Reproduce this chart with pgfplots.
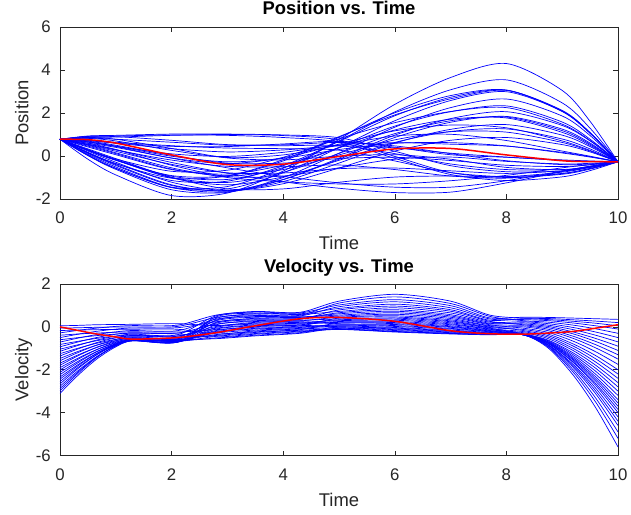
\documentclass[border=0pt]{standalone}
\usepackage{pgfplots}
\pgfplotsset{compat=1.18}
\usepackage{fontspec}
\setmainfont{Liberation Sans}
\definecolor{axgray}{rgb}{0.15,0.15,0.15}
\pgfplotsset{
  bl/.style={blue, line width=0.7pt, smooth},
  rd/.style={red, line width=1.5pt, smooth},
  matlab/.style={
    scale only axis, width=558pt,
    xmin=0, xmax=10, xtick={0,2,4,6,8,10},
    axis line style={draw=axgray, line width=0.6pt},
    tick style={draw=axgray, line width=0.6pt},
    major tick length=5pt,
    tick align=inside, tick pos=both,
    /pgf/number format/assume math mode=true,
    tick label style={font=\fontsize{16.8}{16.8}\selectfont, text=axgray},
    xticklabel style={anchor=base, yshift=-25pt},
    yticklabel style={anchor=east, inner sep=0pt, xshift=-9pt},
    title style={at={(axis description cs:0.5,1)}, anchor=base, yshift=6pt, font=\bfseries\fontsize{18.4}{18.4}\selectfont, text=black},
    xlabel style={at={(axis description cs:0.5,0)}, anchor=base, yshift=-50.5pt, font=\fontsize{18.4}{18.4}\selectfont, text=axgray},
    ylabel style={at={(axis description cs:-0.0565,0.5)}, anchor=base, font=\fontsize{18.4}{18.4}\selectfont, text=axgray},
  }
}
\begin{document}
\begin{tikzpicture}
\useasboundingbox (0,0) rectangle (631pt,514pt);
% ---------------- Position ----------------
\begin{axis}[matlab, at={(60pt,315pt)}, anchor=south west, height=172pt,
  ymin=-2, ymax=6, ytick={-2,0,2,4,6},
  title={Position vs. Time}, xlabel={Time}, ylabel={Position}]
\addplot[bl] coordinates {(0,0.78)(0.5,-0.15)(1,-0.88)(2,-1.84)(3,-1.72)(4,-0.70)(5,0.77)(6,2.40)(7,3.65)(8,4.30)(9,3.05)(9.5,1.61)(10,-0.27)};
\addplot[bl] coordinates {(0,0.78)(0.5,0.03)(1,-0.58)(2,-1.45)(3,-1.42)(4,-0.57)(5,0.70)(6,2.05)(7,3.08)(8,3.54)(9,2.47)(9.5,1.29)(10,-0.27)};
\addplot[bl] coordinates {(0,0.78)(0.5,0.05)(1,-0.57)(2,-1.47)(3,-1.53)(4,-0.78)(5,0.39)(6,1.64)(7,2.58)(8,2.99)(9,2.08)(9.5,1.07)(10,-0.27)};
\addplot[bl] coordinates {(0,0.78)(0.5,0.17)(1,-0.35)(2,-1.14)(3,-1.17)(4,-0.45)(5,0.68)(6,1.87)(7,2.73)(8,3.06)(9,2.09)(9.5,1.07)(10,-0.27)};
\addplot[bl] coordinates {(0,0.78)(0.5,0.15)(1,-0.36)(2,-1.03)(3,-0.93)(4,-0.17)(5,0.90)(6,1.91)(7,2.66)(8,3.05)(9,2.12)(9.5,1.09)(10,-0.27)};
\addplot[bl] coordinates {(0,0.78)(0.5,0.02)(1,-0.62)(2,-1.57)(3,-1.69)(4,-1.00)(5,0.13)(6,1.34)(7,2.25)(8,2.65)(9,1.86)(9.5,0.95)(10,-0.27)};
\addplot[bl] coordinates {(0,0.78)(0.5,0.26)(1,-0.20)(2,-0.91)(3,-0.92)(4,-0.23)(5,0.87)(6,2.01)(7,2.81)(8,3.07)(9,2.07)(9.5,1.05)(10,-0.27)};
\addplot[bl] coordinates {(0,0.78)(0.5,0.09)(1,-0.51)(2,-1.46)(3,-1.67)(4,-1.10)(5,-0.10)(6,0.97)(7,1.74)(8,2.06)(9,1.42)(9.5,0.70)(10,-0.27)};
\addplot[bl] coordinates {(0,0.78)(0.5,0.28)(1,-0.17)(2,-0.94)(3,-1.09)(4,-0.54)(5,0.40)(6,1.39)(7,2.06)(8,2.25)(9,1.48)(9.5,0.72)(10,-0.27)};
\addplot[bl] coordinates {(0,0.78)(0.5,0.13)(1,-0.44)(2,-1.37)(3,-1.61)(4,-1.09)(5,-0.15)(6,0.86)(7,1.57)(8,1.84)(9,1.25)(9.5,0.60)(10,-0.27)};
\addplot[bl] coordinates {(0,0.78)(0.5,0.28)(1,-0.19)(2,-1.00)(3,-1.23)(4,-0.76)(5,0.12)(6,1.04)(7,1.64)(8,1.81)(9,1.18)(9.5,0.55)(10,-0.27)};
\addplot[bl] coordinates {(0,0.78)(0.5,0.16)(1,-0.40)(2,-1.34)(3,-1.64)(4,-1.19)(5,-0.33)(6,0.60)(7,1.24)(8,1.46)(9,0.97)(9.5,0.44)(10,-0.27)};
\addplot[bl] coordinates {(0,0.78)(0.5,0.42)(1,0.06)(2,-0.63)(3,-0.84)(4,-0.42)(5,0.38)(6,1.21)(7,1.71)(8,1.77)(9,1.10)(9.5,0.50)(10,-0.27)};
\addplot[bl] coordinates {(0,0.78)(0.5,0.29)(1,-0.18)(2,-1.02)(3,-1.34)(4,-0.97)(5,-0.20)(6,0.63)(7,1.14)(8,1.26)(9,0.79)(9.5,0.33)(10,-0.27)};
\addplot[bl] coordinates {(0,0.78)(0.5,0.23)(1,-0.29)(2,-1.22)(3,-1.61)(4,-1.29)(5,-0.56)(6,0.23)(7,0.73)(8,0.86)(9,0.53)(9.5,0.19)(10,-0.27)};
\addplot[bl] coordinates {(0,0.78)(0.5,0.29)(1,-0.14)(2,-0.71)(3,-0.66)(4,-0.06)(5,0.80)(6,1.55)(7,2.07)(8,2.33)(9,1.58)(9.5,0.78)(10,-0.27)};
\addplot[bl] coordinates {(0,0.78)(0.5,0.46)(1,0.11)(2,-0.61)(3,-0.92)(4,-0.63)(5,0.05)(6,0.75)(7,1.13)(8,1.11)(9,0.63)(9.5,0.23)(10,-0.27)};
\addplot[bl] coordinates {(0,0.78)(0.5,0.87)(1,0.88)(2,0.96)(3,1.00)(4,0.95)(5,0.75)(6,-0.02)(7,-0.77)(8,-1.00)(9,-0.85)(9.5,-0.61)(10,-0.27)};
\addplot[bl] coordinates {(0,0.78)(0.5,0.93)(1,0.96)(2,1.02)(3,1.02)(4,0.98)(5,0.85)(6,0.22)(7,-0.45)(8,-0.73)(9,-0.70)(9.5,-0.53)(10,-0.27)};
\addplot[bl] coordinates {(0,0.78)(0.5,0.71)(1,0.60)(2,0.45)(3,0.44)(4,0.56)(5,0.68)(6,0.41)(7,0.06)(8,-0.06)(9,-0.18)(9.5,-0.23)(10,-0.27)};
\addplot[bl] coordinates {(0,0.78)(0.5,0.83)(1,0.78)(2,0.64)(3,0.50)(4,0.48)(5,0.48)(6,0.11)(7,-0.37)(8,-0.63)(9,-0.63)(9.5,-0.49)(10,-0.27)};
\addplot[bl] coordinates {(0,0.78)(0.5,0.74)(1,0.64)(2,0.48)(3,0.37)(4,0.34)(5,0.27)(6,-0.23)(7,-0.77)(8,-0.96)(9,-0.81)(9.5,-0.58)(10,-0.27)};
\addplot[bl] coordinates {(0,0.78)(0.5,0.73)(1,0.60)(2,0.34)(3,0.19)(4,0.28)(5,0.47)(6,0.38)(7,0.13)(8,-0.05)(9,-0.21)(9.5,-0.25)(10,-0.27)};
\addplot[bl] coordinates {(0,0.78)(0.5,0.91)(1,0.90)(2,0.73)(3,0.53)(4,0.52)(5,0.63)(6,0.47)(7,0.11)(8,-0.22)(9,-0.40)(9.5,-0.37)(10,-0.27)};
\addplot[bl] coordinates {(0,0.78)(0.5,0.52)(1,0.22)(2,-0.39)(3,-0.78)(4,-0.79)(5,-0.59)(6,-0.56)(7,-0.69)(8,-0.81)(9,-0.69)(9.5,-0.51)(10,-0.27)};
\addplot[bl] coordinates {(0,0.78)(0.5,0.91)(1,0.93)(2,0.98)(3,0.96)(4,0.86)(5,0.65)(6,-0.11)(7,-0.86)(8,-1.14)(9,-0.97)(9.5,-0.68)(10,-0.27)};
\addplot[bl] coordinates {(0,0.78)(0.5,0.33)(1,-0.12)(2,-0.99)(3,-1.53)(4,-1.53)(5,-1.22)(6,-0.98)(7,-0.93)(8,-0.96)(9,-0.75)(9.5,-0.53)(10,-0.27)};
\addplot[bl] coordinates {(0,0.78)(0.5,0.54)(1,0.28)(2,-0.19)(3,-0.48)(4,-0.50)(5,-0.42)(6,-0.63)(7,-0.93)(8,-1.03)(9,-0.82)(9.5,-0.58)(10,-0.27)};
\addplot[bl] coordinates {(0,0.78)(0.5,0.55)(1,0.30)(2,-0.30)(3,-0.80)(4,-1.20)(5,-1.50)(6,-1.70)(7,-1.68)(8,-1.25)(9,-0.72)(9.5,-0.48)(10,-0.27)};
\addplot[bl] coordinates {(0,0.78)(0.5,0.60)(1,0.40)(2,-0.10)(3,-0.55)(4,-0.95)(5,-1.25)(6,-1.45)(7,-1.45)(8,-1.15)(9,-0.70)(9.5,-0.47)(10,-0.27)};
\addplot[bl] coordinates {(0,0.78)(0.5,0.50)(1,0.15)(2,-0.55)(3,-1.00)(4,-1.20)(5,-1.30)(6,-1.30)(7,-1.15)(8,-0.90)(9,-0.55)(9.5,-0.40)(10,-0.27)};
\addplot[bl] coordinates {(0,0.78)(0.5,0.66)(1,0.46)(2,-0.01)(3,-0.27)(4,-0.11)(5,0.30)(6,0.59)(7,0.62)(8,0.47)(9,0.14)(9.5,-0.05)(10,-0.27)};
\addplot[bl] coordinates {(0,0.78)(0.5,0.69)(1,0.50)(2,0.03)(3,-0.33)(4,-0.33)(5,-0.12)(6,-0.06)(7,-0.21)(8,-0.43)(9,-0.49)(9.5,-0.41)(10,-0.27)};
\addplot[bl] coordinates {(0,0.78)(0.5,0.82)(1,0.70)(2,0.26)(3,-0.07)(4,0.05)(5,0.50)(6,0.93)(7,1.01)(8,0.72)(9,0.23)(9.5,-0.01)(10,-0.27)};
\addplot[bl] coordinates {(0,0.78)(0.5,0.59)(1,0.30)(2,-0.43)(3,-0.95)(4,-0.93)(5,-0.55)(6,-0.15)(7,-0.05)(8,-0.25)(9,-0.37)(9.5,-0.34)(10,-0.27)};
\addplot[bl] coordinates {(0,0.78)(0.5,0.64)(1,0.45)(2,0.10)(3,-0.02)(4,0.17)(5,0.51)(6,0.62)(7,0.55)(8,0.46)(9,0.17)(9.5,-0.03)(10,-0.27)};
\addplot[bl] coordinates {(0,0.78)(0.5,0.86)(1,0.78)(2,0.35)(3,-0.09)(4,-0.18)(5,-0.01)(6,0.06)(7,-0.15)(8,-0.53)(9,-0.64)(9.5,-0.50)(10,-0.27)};
\addplot[bl] coordinates {(0,0.78)(0.5,0.66)(1,0.44)(2,-0.09)(3,-0.35)(4,-0.08)(5,0.55)(6,1.17)(7,1.44)(8,1.31)(9,0.70)(9.5,0.26)(10,-0.27)};
\addplot[rd] coordinates {(0,0.78)(0.5,0.76)(1,0.60)(2,0.05)(3,-0.40)(4,-0.38)(5,-0.02)(6,0.33)(7,0.35)(8,0.05)(9,-0.22)(9.5,-0.26)(10,-0.27)};
\end{axis}
% ---------------- Velocity ----------------
\begin{axis}[matlab, at={(60pt,58.5pt)}, anchor=south west, height=171.5pt,
  ymin=-6, ymax=2, ytick={-6,-4,-2,0,2},
  title={Velocity vs. Time}, xlabel={Time}, ylabel={Velocity}]
\addplot[bl] coordinates {(0,0.05)(0.33,0.07)(0.65,0.10)(0.98,0.11)(1.3,0.12)(2.1,0.15)(2.8,0.06)(3.5,0.21)(4.3,0.24)(5,0.14)(6,0.11)(7,-0.02)(7.7,-0.19)(8.3,-0.35)(8.75,-0.75)(9.2,-1.56)(9.6,-2.53)(10,-3.7)};
\addplot[bl] coordinates {(0,-0.06)(0.33,-0.04)(0.65,-0.02)(0.98,-0.01)(1.3,0.00)(2.1,0.02)(2.8,0.44)(3.5,0.61)(4.3,0.58)(5,0.72)(6,0.89)(7,0.65)(7.7,0.22)(8.3,0.24)(8.75,0.15)(9.2,-0.03)(9.6,-0.24)(10,-0.5)};
\addplot[bl] coordinates {(0,-0.17)(0.33,-0.15)(0.65,-0.13)(0.98,-0.12)(1.3,-0.11)(2.1,-0.11)(2.8,-0.33)(3.5,-0.19)(4.3,-0.10)(5,-0.04)(6,-0.13)(7,-0.24)(7.7,-0.32)(8.3,-0.37)(8.75,-0.94)(9.2,-2.12)(9.6,-3.51)(10,-5.2)};
\addplot[bl] coordinates {(0,-0.28)(0.33,-0.16)(0.65,-0.06)(0.98,0.02)(1.3,0.06)(2.1,0.08)(2.8,0.55)(3.5,0.72)(4.3,0.68)(5,1.20)(6,1.52)(7,1.20)(7.7,0.55)(8.3,0.41)(8.75,0.39)(9.2,0.33)(9.6,0.27)(10,0.2)};
\addplot[bl] coordinates {(0,-0.39)(0.33,-0.33)(0.65,-0.29)(0.98,-0.25)(1.3,-0.23)(2.1,-0.24)(2.8,-0.13)(3.5,0.01)(4.3,0.07)(5,0.01)(6,-0.06)(7,-0.18)(7.7,-0.28)(8.3,-0.37)(8.75,-0.87)(9.2,-1.90)(9.6,-3.12)(10,-4.6)};
\addplot[bl] coordinates {(0,-0.5)(0.33,-0.34)(0.65,-0.21)(0.98,-0.11)(1.3,-0.05)(2.1,-0.04)(2.8,0.24)(3.5,0.40)(4.3,0.41)(5,0.50)(6,0.59)(7,0.39)(7.7,0.06)(8.3,0.05)(8.75,-0.11)(9.2,-0.44)(9.6,-0.83)(10,-1.3)};
\addplot[bl] coordinates {(0,-0.6)(0.33,-0.50)(0.65,-0.41)(0.98,-0.34)(1.3,-0.30)(2.1,-0.33)(2.8,-0.47)(3.5,-0.34)(4.3,-0.23)(5,-0.12)(6,-0.24)(7,-0.33)(7.7,-0.37)(8.3,-0.37)(8.75,-0.99)(9.2,-2.26)(9.6,-3.77)(10,-5.6)};
\addplot[bl] coordinates {(0,-0.71)(0.33,-0.52)(0.65,-0.36)(0.98,-0.24)(1.3,-0.17)(2.1,-0.18)(2.8,0.36)(3.5,0.53)(4.3,0.51)(5,0.94)(6,1.17)(7,0.89)(7.7,0.37)(8.3,0.34)(8.75,0.29)(9.2,0.18)(9.6,0.05)(10,-0.1)};
\addplot[bl] coordinates {(0,-0.82)(0.33,-0.67)(0.65,-0.54)(0.98,-0.44)(1.3,-0.38)(2.1,-0.42)(2.8,-0.06)(3.5,0.09)(4.3,0.14)(5,0.21)(6,0.20)(7,0.05)(7.7,-0.14)(8.3,-0.27)(8.75,-0.55)(9.2,-1.11)(9.6,-1.79)(10,-2.6)};
\addplot[bl] coordinates {(0,-0.93)(0.33,-0.70)(0.65,-0.50)(0.98,-0.35)(1.3,-0.27)(2.1,-0.29)(2.8,0.13)(3.5,0.29)(4.3,0.31)(5,0.37)(6,0.41)(7,0.24)(7.7,-0.03)(8.3,-0.12)(8.75,-0.34)(9.2,-0.80)(9.6,-1.34)(10,-2.0)};
\addplot[bl] coordinates {(0,-1.04)(0.33,-0.83)(0.65,-0.65)(0.98,-0.51)(1.3,-0.43)(2.1,-0.48)(2.8,-0.40)(3.5,-0.26)(4.3,-0.16)(5,-0.09)(6,-0.21)(7,-0.30)(7.7,-0.35)(8.3,-0.37)(8.75,-0.91)(9.2,-2.01)(9.6,-3.32)(10,-4.9)};
\addplot[bl] coordinates {(0,-1.14)(0.33,-0.86)(0.65,-0.62)(0.98,-0.44)(1.3,-0.34)(2.1,-0.37)(2.8,0.52)(3.5,0.69)(4.3,0.65)(5,1.02)(6,1.27)(7,0.99)(7.7,0.42)(8.3,0.45)(8.75,0.44)(9.2,0.41)(9.6,0.38)(10,0.35)};
\addplot[bl] coordinates {(0,-1.25)(0.33,-0.99)(0.65,-0.77)(0.98,-0.59)(1.3,-0.50)(2.1,-0.55)(2.8,-0.21)(3.5,-0.07)(4.3,0.00)(5,0.08)(6,0.02)(7,-0.10)(7.7,-0.23)(8.3,-0.37)(8.75,-0.83)(9.2,-1.76)(9.6,-2.86)(10,-4.2)};
\addplot[bl] coordinates {(0,-1.36)(0.33,-1.02)(0.65,-0.74)(0.98,-0.52)(1.3,-0.40)(2.1,-0.44)(2.8,0.02)(3.5,0.17)(4.3,0.21)(5,0.29)(6,0.31)(7,0.14)(7.7,-0.09)(8.3,-0.22)(8.75,-0.48)(9.2,-1.01)(9.6,-1.64)(10,-2.4)};
\addplot[bl] coordinates {(0,-1.47)(0.33,-1.14)(0.65,-0.86)(0.98,-0.65)(1.3,-0.53)(2.1,-0.59)(2.8,-0.55)(3.5,-0.42)(4.3,-0.30)(5,-0.07)(6,-0.17)(7,-0.27)(7.7,-0.33)(8.3,-0.35)(8.75,-0.78)(9.2,-1.67)(9.6,-2.73)(10,-4.0)};
\addplot[bl] coordinates {(0,-1.58)(0.33,-1.19)(0.65,-0.86)(0.98,-0.60)(1.3,-0.46)(2.1,-0.50)(2.8,0.29)(3.5,0.45)(4.3,0.44)(5,0.61)(6,0.73)(7,0.51)(7.7,0.14)(8.3,0.19)(8.75,0.08)(9.2,-0.13)(9.6,-0.39)(10,-0.7)};
\addplot[bl] coordinates {(0,-1.69)(0.33,-1.30)(0.65,-0.97)(0.98,-0.71)(1.3,-0.57)(2.1,-0.63)(2.8,-0.29)(3.5,-0.15)(4.3,-0.07)(5,0.04)(6,-0.03)(7,-0.15)(7.7,-0.26)(8.3,-0.35)(8.75,-0.73)(9.2,-1.51)(9.6,-2.43)(10,-3.55)};
\addplot[bl] coordinates {(0,-1.79)(0.33,-1.34)(0.65,-0.96)(0.98,-0.67)(1.3,-0.51)(2.1,-0.56)(2.8,0.18)(3.5,0.33)(4.3,0.35)(5,0.79)(6,0.97)(7,0.73)(7.7,0.26)(8.3,0.10)(8.75,-0.04)(9.2,-0.33)(9.6,-0.68)(10,-1.1)};
\addplot[bl] coordinates {(0,-1.9)(0.33,-1.45)(0.65,-1.07)(0.98,-0.77)(1.3,-0.61)(2.1,-0.68)(2.8,-0.44)(3.5,-0.31)(4.3,-0.20)(5,-0.11)(6,-0.22)(7,-0.31)(7.7,-0.36)(8.3,-0.36)(8.75,-0.84)(9.2,-1.82)(9.6,-2.99)(10,-4.4)};
\addplot[bl] coordinates {(0,-2.01)(0.33,-1.50)(0.65,-1.07)(0.98,-0.74)(1.3,-0.56)(2.1,-0.62)(2.8,0.40)(3.5,0.56)(4.3,0.54)(5,1.11)(6,1.40)(7,1.09)(7.7,0.49)(8.3,0.29)(8.75,0.22)(9.2,0.08)(9.6,-0.09)(10,-0.3)};
\addplot[bl] coordinates {(0,-2.12)(0.33,-1.60)(0.65,-1.16)(0.98,-0.82)(1.3,-0.63)(2.1,-0.70)(2.8,-0.10)(3.5,0.05)(4.3,0.10)(5,0.25)(6,0.25)(7,0.10)(7.7,-0.11)(8.3,-0.34)(8.75,-0.70)(9.2,-1.45)(9.6,-2.33)(10,-3.4)};
\addplot[bl] coordinates {(0,-2.23)(0.33,-1.66)(0.65,-1.17)(0.98,-0.80)(1.3,-0.59)(2.1,-0.65)(2.8,-0.52)(3.5,-0.39)(4.3,-0.27)(5,-0.01)(6,-0.10)(7,-0.21)(7.7,-0.30)(8.3,-0.37)(8.75,-0.78)(9.2,-1.63)(9.6,-2.64)(10,-3.85)};
\addplot[bl] coordinates {(0,-2.34)(0.33,-1.75)(0.65,-1.25)(0.98,-0.86)(1.3,-0.65)(2.1,-0.72)(2.8,0.10)(3.5,0.25)(4.3,0.28)(5,0.45)(6,0.52)(7,0.33)(7.7,0.03)(8.3,-0.17)(8.75,-0.41)(9.2,-0.90)(9.6,-1.49)(10,-2.2)};
\addplot[bl] coordinates {(0,-2.44)(0.33,-1.80)(0.65,-1.25)(0.98,-0.83)(1.3,-0.60)(2.1,-0.67)(2.8,-0.24)(3.5,-0.10)(4.3,-0.03)(5,0.10)(6,0.06)(7,-0.07)(7.7,-0.21)(8.3,-0.35)(8.75,-0.69)(9.2,-1.38)(9.6,-2.21)(10,-3.2)};
\addplot[bl] coordinates {(0,-2.55)(0.33,-1.88)(0.65,-1.31)(0.98,-0.87)(1.3,-0.63)(2.1,-0.69)(2.8,0.47)(3.5,0.64)(4.3,0.61)(5,0.86)(6,1.06)(7,0.80)(7.7,0.31)(8.3,0.38)(8.75,0.34)(9.2,0.26)(9.6,0.17)(10,0.05)};
\addplot[bl] coordinates {(0,-2.66)(0.33,-1.93)(0.65,-1.31)(0.98,-0.83)(1.3,-0.57)(2.1,-0.63)(2.8,-0.36)(3.5,-0.23)(4.3,-0.13)(5,0.17)(6,0.15)(7,0.01)(7.7,-0.17)(8.3,-0.33)(8.75,-0.65)(9.2,-1.30)(9.6,-2.07)(10,-3.0)};
\addplot[bl] coordinates {(0,-2.77)(0.33,-2.03)(0.65,-1.40)(0.98,-0.92)(1.3,-0.65)(2.1,-0.72)(2.8,-0.02)(3.5,0.13)(4.3,0.17)(5,0.33)(6,0.36)(7,0.19)(7.7,-0.06)(8.3,-0.32)(8.75,-0.62)(9.2,-1.22)(9.6,-1.93)(10,-2.8)};
\addplot[bl] coordinates {(0,-2.88)(0.33,-2.09)(0.65,-1.42)(0.98,-0.90)(1.3,-0.62)(2.1,-0.69)(2.8,0.21)(3.5,0.37)(4.3,0.38)(5,0.66)(6,0.80)(7,0.57)(7.7,0.17)(8.3,0.14)(8.75,0.02)(9.2,-0.24)(9.6,-0.54)(10,-0.9)};
\addplot[bl] coordinates {(0,-2.99)(0.33,-2.15)(0.65,-1.45)(0.98,-0.90)(1.3,-0.60)(2.1,-0.66)(2.8,-0.17)(3.5,-0.02)(4.3,0.04)(5,0.41)(6,0.46)(7,0.28)(7.7,0.00)(8.3,0.00)(8.75,-0.18)(9.2,-0.54)(9.6,-0.98)(10,-1.5)};
\addplot[bl] coordinates {(0,-3.1)(0.33,-2.24)(0.65,-1.52)(0.98,-0.96)(1.3,-0.65)(2.1,-0.72)(2.8,0.32)(3.5,0.48)(4.3,0.47)(5,0.55)(6,0.66)(7,0.45)(7.7,0.10)(8.3,-0.06)(8.75,-0.26)(9.2,-0.67)(9.6,-1.16)(10,-1.75)};
\addplot[rd] coordinates {(0,0.0)(0.33,-0.17)(0.65,-0.33)(0.98,-0.46)(1.3,-0.57)(2.1,-0.50)(2.8,-0.27)(3.5,0.05)(4.3,0.38)(5,0.44)(6,0.26)(7,-0.18)(7.7,-0.32)(8.3,-0.34)(8.75,-0.29)(9.2,-0.21)(9.6,-0.06)(10,0.1)};
\end{axis}
\end{tikzpicture}
\end{document}
